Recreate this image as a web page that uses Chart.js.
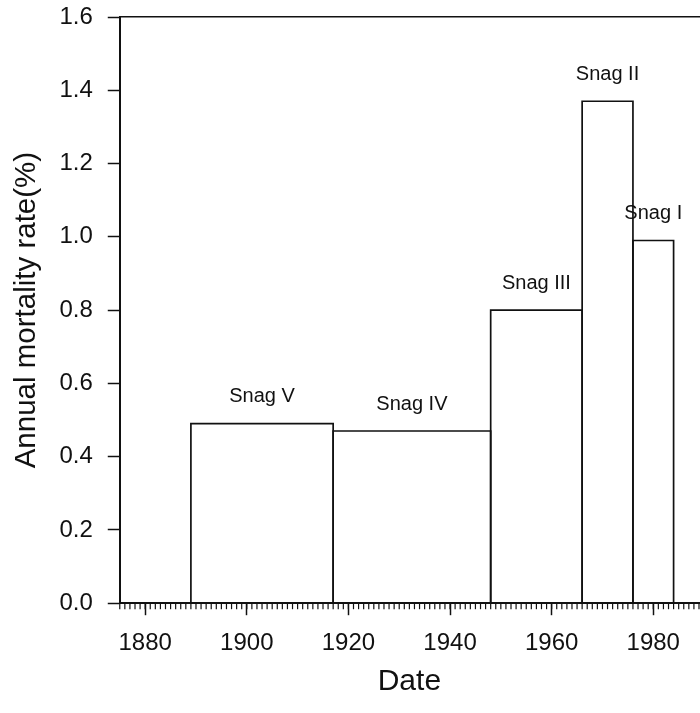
<!DOCTYPE html>
<html>
<head>
<meta charset="utf-8">
<script src="https://cdn.jsdelivr.net/npm/chart.js@4.4.0/dist/chart.umd.min.js"></script>
<style>
html, body { margin: 0; padding: 0; background: #fff; overflow: hidden; }
</style>
</head>
<body>
<canvas id="mortalityChart" width="700" height="713"></canvas>
<script>
// snag classes, period each class died in (years) and annual mortality rate (%)
const snagNames = ['Snag V', 'Snag IV', 'Snag III', 'Snag II', 'Snag I'];
const periodStart = [1889, 1917, 1948, 1966, 1976];
const periodEnd = [1917, 1948, 1966, 1976, 1984];
const mortalityRate = [0.49, 0.47, 0.80, 1.37, 0.99];
const xTickYears = [1880, 1900, 1920, 1940, 1960, 1980];
const yTickValues = [0, 0.2, 0.4, 0.6, 0.8, 1.0, 1.2, 1.4, 1.6];

const FONT = '"Liberation Sans", Arial, Helvetica, sans-serif';
const INK = '#111';

// yearly minor ticks under the x axis
const minorTicks = {
    id: 'minorTicks',
    afterDraw(chart) {
        const x = chart.scales.x;
        const y0 = chart.chartArea.bottom;
        const ctx = chart.ctx;
        ctx.save();
        ctx.strokeStyle = INK;
        ctx.lineWidth = 1.2;
        for (let yr = Math.ceil(x.min); yr <= x.max; yr++) {
            const px = x.getPixelForValue(yr);
            ctx.beginPath();
            ctx.moveTo(px, y0);
            ctx.lineTo(px, y0 + 6);
            ctx.stroke();
        }
        ctx.restore();
    }
};

// "Snag ..." text above each box
const snagLabels = {
    id: 'snagLabels',
    afterDatasetsDraw(chart) {
        const { ctx, scales: { x, y } } = chart;
        ctx.save();
        ctx.font = '20px ' + FONT;
        ctx.fillStyle = INK;
        ctx.textAlign = 'center';
        ctx.textBaseline = 'middle';
        snagNames.forEach((name, i) => {
            const cx = x.getPixelForValue((periodStart[i] + periodEnd[i]) / 2);
            const cy = y.getPixelForValue(mortalityRate[i]) - 27;
            ctx.fillText(name, cx, cy);
        });
        ctx.restore();
    }
};

// each snag class is an open box: up at start, across at the rate, down at end
const datasets = snagNames.map((name, i) => ({
    label: name,
    data: [
        { x: periodStart[i], y: 0 },
        { x: periodStart[i], y: mortalityRate[i] },
        { x: periodEnd[i], y: mortalityRate[i] },
        { x: periodEnd[i], y: 0 }
    ],
    showLine: true,
    borderColor: INK,
    borderWidth: 1.7,
    pointRadius: 0,
    fill: false,
    tension: 0
}));

const ctx = document.getElementById('mortalityChart').getContext('2d');
new Chart(ctx, {
    type: 'scatter',
    data: { datasets },
    plugins: [minorTicks, snagLabels],
    options: {
        responsive: false,
        animation: false,
        layout: { padding: { left: 3, top: 17, right: 1, bottom: 9 } },
        plugins: {
            legend: { display: false },
            tooltip: { enabled: false }
        },
        scales: {
            x: {
                type: 'linear',
                position: 'bottom',
                min: 1875,
                max: 1989,
                afterBuildTicks: (scale) => { scale.ticks = xTickYears.map(v => ({ value: v })); },
                ticks: {
                    color: INK,
                    font: { family: FONT, size: 24 },
                    padding: 14,
                    maxRotation: 0,
                    autoSkip: false,
                    callback: (v) => String(v)
                },
                grid: { drawOnChartArea: false, tickLength: 12, tickColor: INK, tickWidth: 1.5 },
                border: { color: INK, width: 2 },
                title: {
                    display: true,
                    text: 'Date',
                    color: INK,
                    font: { family: FONT, size: 30 },
                    padding: { top: -8, bottom: 4 }
                }
            },
            y: {
                type: 'linear',
                min: 0,
                max: 1.6,
                afterBuildTicks: (scale) => { scale.ticks = yTickValues.map(v => ({ value: v })); },
                afterFit: (scale) => { scale.paddingTop = 0; },
                ticks: {
                    color: INK,
                    font: { family: FONT, size: 24 },
                    padding: 15,
                    callback: (v) => v.toFixed(1)
                },
                grid: { drawOnChartArea: false, tickLength: 12, tickColor: INK, tickWidth: 1.5 },
                border: { color: INK, width: 2 },
                title: {
                    display: true,
                    text: 'Annual mortality rate(%)',
                    color: INK,
                    font: { family: FONT, size: 29.5 },
                    padding: { top: 6, bottom: 0 }
                }
            },
            x2: {
                type: 'linear',
                position: 'top',
                min: 1875,
                max: 1989,
                afterFit: (scale) => { scale.height = 0; },
                ticks: { display: false },
                grid: { display: false },
                border: { color: INK, width: 1.5 }
            }
        }
    }
});
</script>
</body>
</html>
